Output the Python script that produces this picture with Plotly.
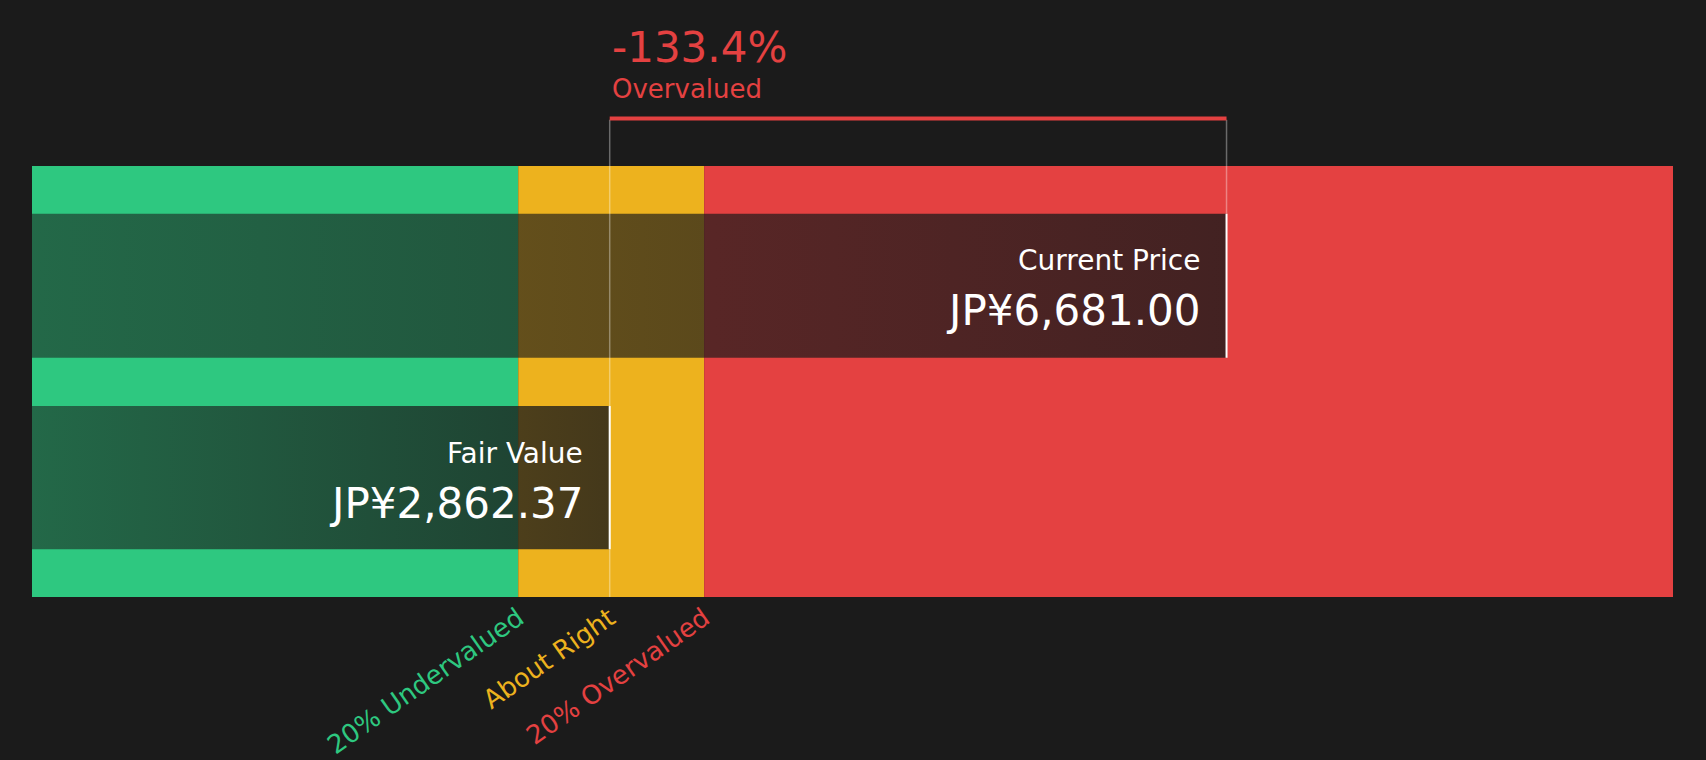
import plotly.graph_objects as go

# valores
fair_value = 2862.37
current_price = 6681.00
zone_names = ["20% Undervalued", "About Right", "20% Overvalued"]
zone_colors = ["#2ec880", "#edb21e", "#e44141"]
zone_edges = [-714, 2296, 3447, 9445]   # inicio eje, -20%, +20%, fin eje

x_min, x_max = zone_edges[0], zone_edges[-1]
diff_pct = (fair_value - current_price) / fair_value * 100
font = "DejaVu Sans"
bg = "#1b1b1b"

fig = go.Figure()

# zonas de valoracion
fig.add_trace(go.Bar(
    orientation="h",
    y=[0.5, 0.5, 0.5],
    base=zone_edges[:-1],
    x=[zone_edges[i + 1] - zone_edges[i] for i in range(3)],
    width=1,
    marker=dict(color=zone_colors, line=dict(width=0)),
    hoverinfo="skip",
))


def dark_bar(value, y0, y1):
    fig.add_trace(go.Scatter(
        x=[x_min, value, value, x_min, x_min],
        y=[y0, y0, y1, y1, y0],
        mode="lines",
        fill="toself",
        fillgradient=dict(type="horizontal",
                          colorscale=[[0, "rgba(26,26,26,0.55)"], [1, "rgba(26,26,26,0.80)"]]),
        line=dict(width=0, color="rgba(0,0,0,0)"),
        hoverinfo="skip",
    ))


# barras oscuras: precio actual (arriba) y valor justo (abajo)
dark_bar(current_price, 0.555, 0.889)
dark_bar(fair_value, 0.111, 0.443)

shapes = [
    dict(type="line", x0=current_price, x1=current_price, y0=0.555, y1=0.889,
         line=dict(color="white", width=2)),
    dict(type="line", x0=fair_value, x1=fair_value, y0=0.111, y1=0.443,
         line=dict(color="white", width=2)),
    dict(type="line", x0=fair_value, x1=fair_value, y0=0, y1=1.107,
         line=dict(color="rgba(255,255,255,0.35)", width=1.5)),
    dict(type="line", x0=current_price, x1=current_price, y0=0.889, y1=1.107,
         line=dict(color="rgba(255,255,255,0.35)", width=1.5)),
    dict(type="line", x0=fair_value, x1=current_price, y0=1.11, y1=1.11,
         line=dict(color="#e44141", width=4)),
]

annotations = [
    dict(x=fair_value, y=1.275, text=f"{diff_pct:.1f}%", xanchor="left", yanchor="middle",
         showarrow=False, font=dict(size=42, color="#e44141", family=font)),
    dict(x=fair_value, y=1.179, text="Overvalued", xanchor="left", yanchor="middle",
         showarrow=False, font=dict(size=26, color="#e44141", family=font)),
    dict(x=current_price, y=0.78, text="Current Price", xanchor="right", yanchor="middle",
         xshift=-25, showarrow=False, font=dict(size=28, color="white", family=font)),
    dict(x=current_price, y=0.664, text=f"JP¥{current_price:,.2f}", xanchor="right",
         yanchor="middle", xshift=-25, showarrow=False,
         font=dict(size=42, color="white", family=font)),
    dict(x=fair_value, y=0.334, text="Fair Value", xanchor="right", yanchor="middle",
         xshift=-25, showarrow=False, font=dict(size=28, color="white", family=font)),
    dict(x=fair_value, y=0.218, text=f"JP¥{fair_value:,.2f}", xanchor="right",
         yanchor="middle", xshift=-25, showarrow=False,
         font=dict(size=42, color="white", family=font)),
]

tick_vals = [zone_edges[1], fair_value, zone_edges[2]]
tick_text = [f"<span style='color:{c}'>{n}</span>" for n, c in zip(zone_names, zone_colors)]

fig.update_layout(
    width=1706, height=760,
    paper_bgcolor=bg, plot_bgcolor=bg,
    margin=dict(l=32, r=33, t=0, b=163),
    showlegend=False,
    barmode="overlay",
    shapes=shapes,
    annotations=annotations,
    font=dict(family=font),
    xaxis=dict(range=[x_min, x_max], showgrid=False, zeroline=False, showline=False,
               tickvals=tick_vals, ticktext=tick_text, tickangle=-35,
               tickfont=dict(size=26, family=font), ticks="", fixedrange=True),
    yaxis=dict(range=[0, 1.385], visible=False, fixedrange=True),
)

# sin margen blanco del body
fig.write_html("out.html", config={"displayModeBar": False},
               post_script="document.body.style.margin='0';"
                           "document.body.style.background='#1b1b1b';")
